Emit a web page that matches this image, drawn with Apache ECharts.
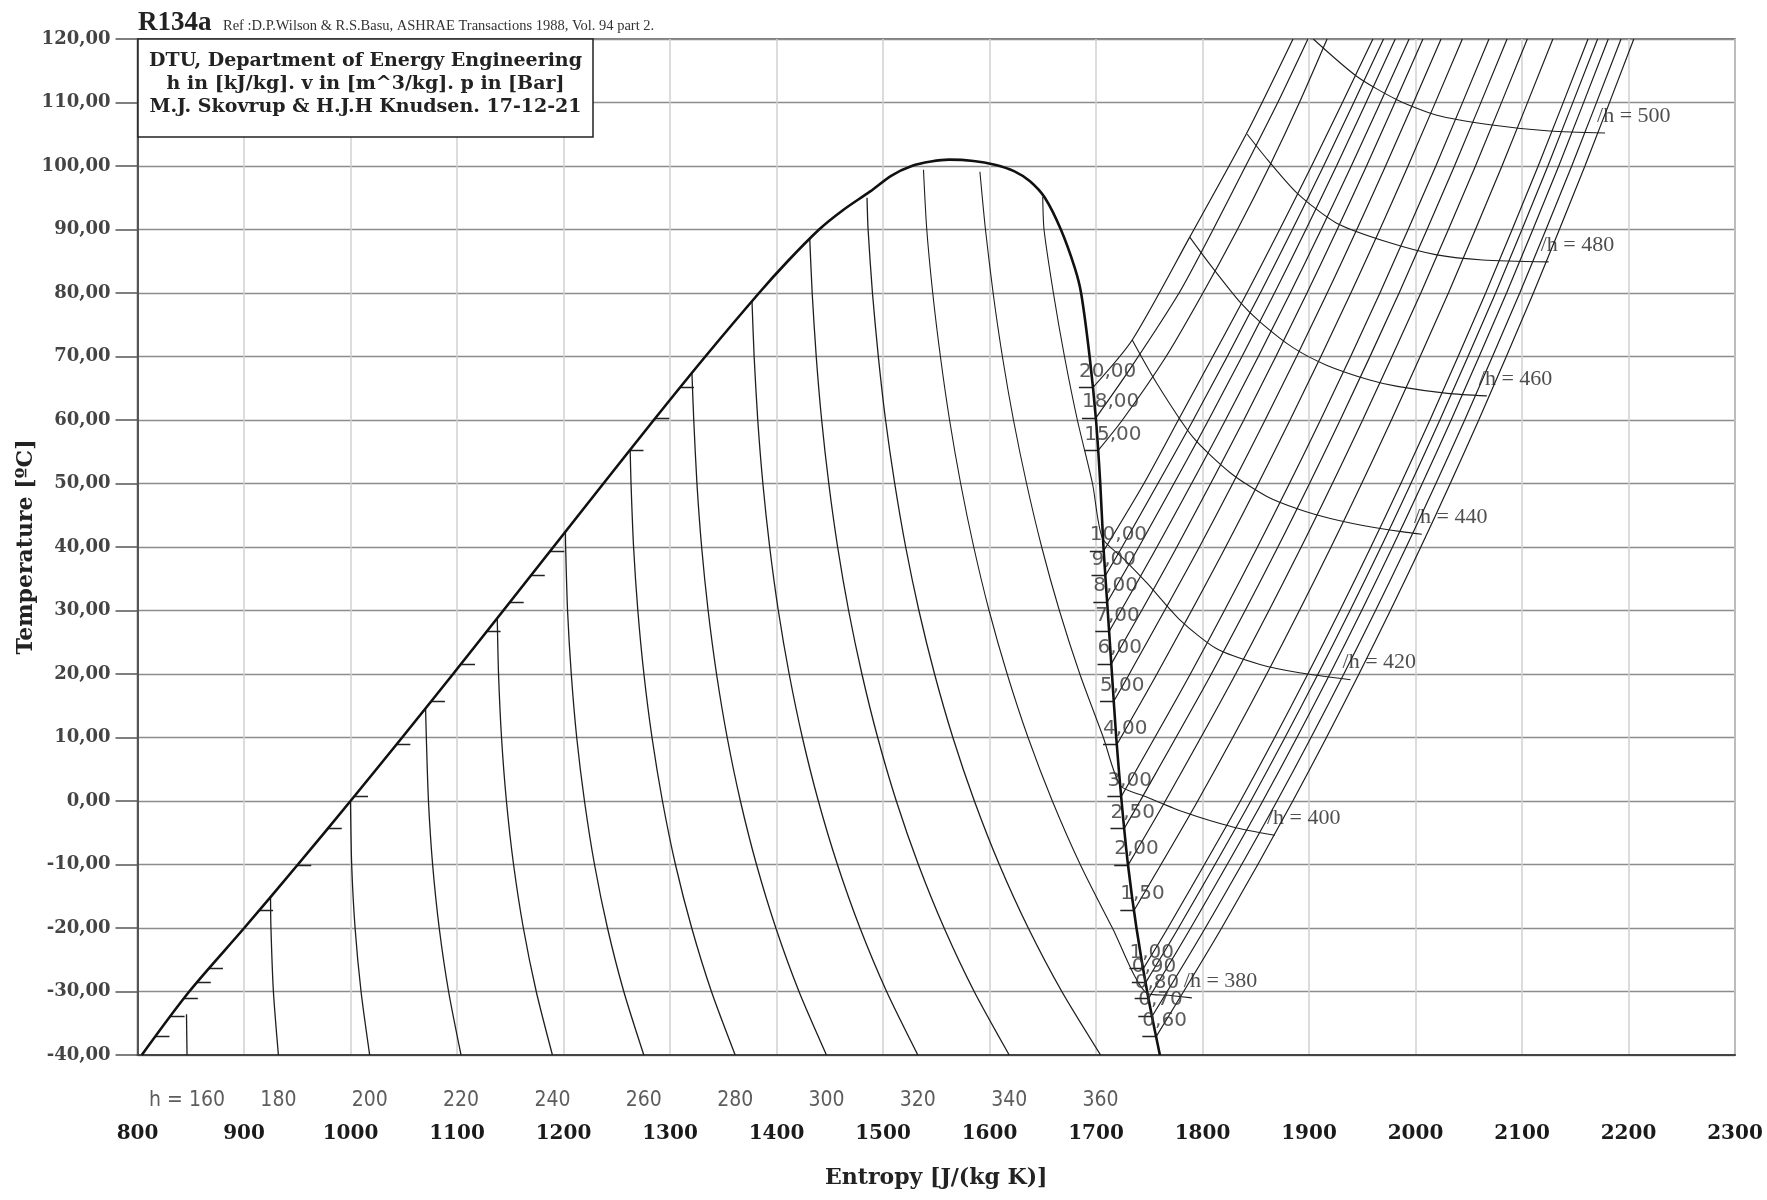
<!DOCTYPE html>
<html>
<head>
<meta charset="utf-8">
<title>R134a T-s diagram</title>
<script src="https://cdn.jsdelivr.net/npm/echarts@6.0.0/dist/echarts.min.js"></script>
<style>
  html, body { margin: 0; padding: 0; background: #fff; }
  #chart { width: 1767px; height: 1200px; }
</style>
</head>
<body>
<div id="chart"></div>
<script>
// saturation dome: liquid side up to the critical point, then vapour side back down
const domeS = [804, 848.6, 900.2, 950.6, 1000, 1048.5, 1096.3, 1143.5, 1190.5, 1237.5, 1284.8, 1333.2, 1383.6, 1410.5, 1440, 1462, 1488, 1508, 1527, 1545, 1562,
  1585, 1605, 1623, 1638, 1652, 1667, 1680, 1686, 1694, 1700, 1704, 1707, 1711, 1715, 1719, 1724, 1730, 1738, 1748, 1760];
const domeT = [-40, -30, -20, -10, 0, 10, 20, 30, 40, 50, 60, 70, 80, 85, 90, 93, 96, 98.5, 100, 100.7, 101,
  100.8, 100.2, 99.2, 97.6, 95, 90, 84, 80, 70, 60, 50, 40, 30, 20, 10, 0, -10, -20, -30, -40];

// constant enthalpy lines inside the dome (kJ/kg), points [s, T]
const hWet = [160, 180, 200, 220, 240, 260, 280, 300, 320, 340, 360];
const hWetLines = [
  [[846, -33.6], [846.5, -40]],
  [[924.9, -15.1], [925.3, -20], [927.6, -30], [932.3, -40]],
  [[1000, 0], [1001.1, -10], [1004.3, -20], [1009.9, -30], [1018, -40]],
  [[1070.5, 14.6], [1071.2, 10], [1073.2, 0], [1077.1, -10], [1083.3, -20], [1092.1, -30], [1103.8, -40]],
  [[1137.8, 28.8], [1139, 20], [1141.8, 10], [1146.4, 0], [1153.1, -10], [1162.3, -20], [1174.4, -30], [1189.6, -40]],
  [[1201.8, 42.4], [1202, 40], [1203.8, 30], [1207.3, 20], [1212.4, 10], [1219.7, 0], [1229.1, -10], [1241.3, -20], [1256.6, -30], [1275.4, -40]],
  [[1262.6, 55.3], [1263.4, 50], [1265.8, 40], [1269.8, 30], [1275.5, 20], [1283.1, 10], [1292.9, 0], [1305.1, -10], [1320.4, -20], [1338.9, -30], [1361.2, -40]],
  [[1320.6, 67.4], [1322.3, 60], [1325.3, 50], [1329.7, 40], [1335.8, 30], [1343.7, 20], [1353.7, 10], [1366.1, 0], [1381.2, -10], [1399.4, -20], [1421.1, -30], [1446.9, -40]],
  [[1377, 78.7], [1379, 70], [1382.4, 60], [1387.2, 50], [1393.6, 40], [1401.7, 30], [1411.9, 20], [1424.3, 10], [1439.3, 0], [1457.2, -10], [1478.4, -20], [1503.4, -30], [1532.7, -40]],
  [[1431.2, 88.6], [1433.5, 80], [1437.3, 70], [1442.4, 60], [1449.1, 50], [1457.4, 40], [1467.7, 30], [1480.2, 20], [1495, 10], [1512.5, 0], [1533.2, -10], [1557.4, -20], [1585.6, -30], [1618.5, -40]],
  [[1485, 95], [1486, 90], [1490.1, 80], [1495.6, 70], [1502.4, 60], [1511, 50], [1521.3, 40], [1533.7, 30], [1548.4, 20], [1565.6, 10], [1585.8, 0], [1609.2, -10], [1636.4, -20], [1667.9, -30], [1704.3, -40]]
];

// constant enthalpy lines reaching the vapour region
const hSup = [380, 400, 420, 440, 460, 480, 500];
const hSupLines = [
  [[1538, 99.4], [1541.1, 90], [1546.7, 80], [1553.9, 70], [1562.5, 60], [1572.9, 50], [1585.2, 40], [1599.6, 30], [1616.6, 20], [1636.2, 10], [1659, 0], [1685.2, -10], [1715.4, -20], [1748, -30.3], [1768, -30.6], [1790, -31]],
  [[1591, 99.1], [1596.2, 90], [1603.4, 80], [1612.1, 70], [1622.5, 60], [1634.8, 50], [1649, 40], [1665.6, 30], [1684.8, 20], [1706.9, 10], [1723, 2.4], [1745, 0.8], [1781.7, -1.7], [1828.6, -4.1], [1868, -5.4]],
  [[1650, 95.1], [1651.2, 90], [1660, 80], [1670.4, 70], [1682.5, 60], [1696.7, 50], [1706, 41.4], [1725, 38.3], [1748, 34.3], [1779, 28.5], [1813, 24], [1854, 21.5], [1891, 20.2], [1939, 19.1]],
  [[1734, 72.6], [1757, 65.8], [1791, 57.3], [1826, 51.7], [1860, 48], [1891, 45.9], [1920, 44.5], [1960, 43.1], [1992, 42.3], [2006, 42]],
  [[1788, 88.8], [1807, 84.5], [1835, 78.6], [1855, 75.3], [1885, 71.4], [1917, 68.6], [1957, 66.3], [1983, 65.3], [2030, 64.2], [2067, 63.8]],
  [[1842, 105], [1861, 101], [1889, 95.7], [1926, 91], [1976, 87.9], [2020, 86], [2063, 85.2], [2125, 84.9]],
  [[1904, 120], [1945, 114.1], [1983, 110.4], [2020, 108], [2070, 106.5], [2126, 105.5], [2178, 105.2]]
];

// isobars (bar): saturation temperature, liquid entropy there, and the superheated branch
const pBar = [0.6, 0.7, 0.8, 0.9, 1, 1.5, 2, 2.5, 3, 4, 5, 6, 7, 8, 9, 10, 15, 18, 20];
const pTsat = [-37.1, -33.9, -31.1, -28.6, -26.4, -17.2, -10.1, -4.3, 0.7, 8.9, 15.7, 21.6, 26.7, 31.3, 35.5, 39.4, 55.2, 60.3, 65.1];
const pLiqS = [817, 831.2, 843.7, 855.8, 867.2, 914.3, 950.1, 978.8, 1003.4, 1043.2, 1075.7, 1103.9, 1127.9, 1149.6, 1169.4, 1187.7, 1262.1, 1286.3, 1309.5];
const isobarLines = [
  [[1756.5, -37.1], [1818, -20], [1884.8, 0], [1946.9, 20], [2005, 40], [2059.4, 60], [2110.7, 80], [2159.1, 100], [2205, 120]],
  [[1752.7, -33.9], [1802.6, -20], [1870, 0], [1932.7, 20], [1991.3, 40], [2046.2, 60], [2097.9, 80], [2146.7, 100], [2193, 120]],
  [[1749.3, -31.1], [1788.9, -20], [1856.6, 0], [1919.6, 20], [1978.4, 40], [2033.5, 60], [2085.5, 80], [2134.5, 100], [2181, 120]],
  [[1746.6, -28.6], [1777.4, -20], [1845.3, 0], [1908.5, 20], [1967.6, 40], [2022.9, 60], [2075.2, 80], [2124.3, 100], [2171, 120]],
  [[1744.4, -26.4], [1767.4, -20], [1835.6, 0], [1898.9, 20], [1958.1, 40], [2013.6, 60], [2065.9, 80], [2115.2, 100], [2162, 120]],
  [[1735.8, -17.2], [1795.5, 0], [1860.3, 20], [1920.7, 40], [1977.4, 60], [2030.9, 80], [2081.2, 100], [2129, 120]],
  [[1730.1, -10.1], [1765.1, 0], [1831.1, 20], [1892.7, 40], [1950.4, 60], [2005, 80], [2056.3, 100], [2105, 120]],
  [[1726.6, -4.3], [1741.4, 0], [1808.3, 20], [1870.8, 40], [1929.3, 60], [1984.6, 80], [2036.6, 100], [2086, 120]],
  [[1723.7, 0.7], [1788.6, 20], [1851.6, 40], [1910.8, 60], [1966.6, 80], [2019.1, 100], [2069, 120]],
  [[1719.6, 8.9], [1757.2, 20], [1821.7, 40], [1882.2, 60], [1939.3, 80], [1993, 100], [2044, 120]],
  [[1716.7, 15.7], [1731.3, 20], [1797.1, 40], [1858.8, 60], [1917.1, 80], [1971.9, 100], [2024, 120]],
  [[1714.4, 21.6], [1742.9, 30], [1775.9, 40], [1838.8, 60], [1898.1, 80], [1954, 100], [2007, 120]],
  [[1712.3, 26.7], [1757.2, 40], [1821.6, 60], [1882.4, 80], [1939.7, 100], [1994, 120]],
  [[1710.5, 31.3], [1740.2, 40], [1805.7, 60], [1867.6, 80], [1925.8, 100], [1981, 120]],
  [[1708.8, 35.5], [1724.5, 40], [1791.3, 60], [1854.3, 80], [1913.7, 100], [1970, 120]],
  [[1707.2, 39.4], [1745, 50], [1777.3, 60], [1841.7, 80], [1902.4, 100], [1960, 120]],
  [[1702, 55.2], [1724.8, 60], [1765.8, 70], [1800.4, 80], [1832.8, 90], [1863, 100], [1891, 110], [1917, 120]],
  [[1699.8, 60.3], [1731.8, 68], [1778, 80], [1810, 90], [1840.5, 100], [1870.7, 110], [1899, 120]],
  [[1697, 65.1], [1734, 72.6], [1788, 88.8], [1841, 105], [1885, 120]]
];

const serif = '"DejaVu Serif", serif';
const TICK = 13; // length of the little pressure marks on the dome, in entropy units

function curve(pts, width) {
  return {
    type: 'line', data: pts, showSymbol: false, smooth: 0.25, silent: true, z: 3,
    lineStyle: { color: '#1e1e1e', width: width }
  };
}

const series = [];

series.push({
  type: 'line', data: domeS.map((s, i) => [s, domeT[i]]), showSymbol: false, smooth: 0.3,
  silent: true, z: 5, lineStyle: { color: '#111', width: 2.6 }
});
hWetLines.forEach(pts => series.push(curve(pts, 1.3)));
hSupLines.forEach(pts => series.push(curve(pts, 1.1)));
isobarLines.forEach(pts => series.push(curve(pts, 1.2)));

// pressure marks on the liquid and vapour lines
const ticks = [];
pBar.forEach((p, i) => {
  const sv = isobarLines[i][0][0];
  ticks.push({ coords: [[pLiqS[i], pTsat[i]], [pLiqS[i] + TICK, pTsat[i]]] });
  ticks.push({ coords: [[sv - TICK, pTsat[i]], [sv, pTsat[i]]] });
});
series.push({
  type: 'lines', coordinateSystem: 'cartesian2d', data: ticks, silent: true, z: 4,
  lineStyle: { color: '#222', width: 1.3, opacity: 1 }
});

// pressure labels next to the vapour line
series.push({
  type: 'scatter', symbolSize: 0, clip: false, silent: true, z: 6,
  data: pBar.map((p, i) => ({
    value: [isobarLines[i][0][0] - TICK, pTsat[i]],
    label: { formatter: p.toFixed(2).replace('.', ',') }
  })),
  label: { show: true, position: 'right', distance: 0, offset: [0, -16], fontFamily: '"DejaVu Sans", sans-serif', fontSize: 20, color: '#333' }
});

// enthalpy labels below the axis
series.push({
  type: 'scatter', symbolSize: 0, clip: false, silent: true, z: 6,
  data: hWet.map((h, i) => {
    const last = hWetLines[i][hWetLines[i].length - 1];
    return { value: last, label: { formatter: i === 0 ? 'h = ' + h : String(h) } };
  }),
  label: { show: true, position: 'bottom', distance: 35, fontFamily: '"DejaVu Sans Condensed", "Liberation Sans", sans-serif', fontSize: 21, color: '#333' }
});

// enthalpy labels at the end of the vapour-region lines
series.push({
  type: 'scatter', symbolSize: 0, clip: false, silent: true, z: 6,
  data: hSup.map((h, i) => {
    const pts = hSupLines[i];
    return { value: pts[pts.length - 1], label: { formatter: '/h = ' + h } };
  }),
  label: { show: true, position: 'right', distance: 0, offset: [-8, -17], fontFamily: '"Liberation Serif", serif', fontSize: 22, color: '#222' }
});

const chart = echarts.init(document.getElementById('chart'));
chart.setOption({
  animation: false,
  backgroundColor: '#fff',
  grid: { left: 137.5, right: 32, top: 39, bottom: 145, show: true, borderColor: '#555', borderWidth: 1.5 },
  xAxis: {
    type: 'value', min: 800, max: 2300, interval: 100,
    name: 'Entropy [J/(kg K)]', nameLocation: 'middle', nameGap: 112, nameMoveOverlap: false,
    nameTextStyle: { fontFamily: serif, fontWeight: 'bold', fontSize: 22, color: '#222' },
    axisLine: { show: true, onZero: false, lineStyle: { color: '#444', width: 2 } },
    axisTick: { show: false },
    axisLabel: { margin: 69, fontFamily: serif, fontWeight: 'bold', fontSize: 20, color: '#1a1a1a', formatter: v => String(v) },
    splitLine: { show: true, lineStyle: { color: '#d0d0d0', width: 1.5 } }
  },
  yAxis: {
    type: 'value', min: -40, max: 120, interval: 10,
    name: 'Temperature [ºC]', nameLocation: 'middle', nameGap: 100, nameMoveOverlap: false,
    nameTextStyle: { fontFamily: serif, fontWeight: 'bold', fontSize: 22, color: '#222' },
    axisLine: { show: true, onZero: false, lineStyle: { color: '#555', width: 2 } },
    axisTick: { show: true, length: 22, lineStyle: { color: '#555', width: 1.5 } },
    axisLabel: {
      margin: 27, fontFamily: serif, fontWeight: 'bold', fontSize: 18, color: '#444',
      formatter: v => v.toFixed(2).replace('.', ',')
    },
    splitLine: { show: true, lineStyle: { color: '#8c8c8c', width: 1.3 } }
  },
  graphic: [
    { type: 'text', x: 138, y: 37, z: 100, style: { text: 'R134a', font: 'bold 27px "Liberation Serif"', fill: '#222', textVerticalAlign: 'bottom', verticalAlign: 'bottom' } },
    { type: 'text', x: 223, y: 34, z: 100, style: { text: 'Ref :D.P.Wilson & R.S.Basu, ASHRAE Transactions 1988, Vol. 94 part 2.', font: '14.5px "Liberation Serif"', fill: '#333', textVerticalAlign: 'bottom', verticalAlign: 'bottom' } },
    { type: 'rect', z: 100, shape: { x: 138, y: 39, width: 455, height: 98 }, style: { fill: '#fff', stroke: '#222', lineWidth: 1.5 } },
    { type: 'text', x: 365.5, y: 61, z: 101, style: { text: 'DTU, Department of Energy Engineering', font: 'bold 19px "DejaVu Serif"', fill: '#222', textAlign: 'center', align: 'center', textVerticalAlign: 'middle', verticalAlign: 'middle' } },
    { type: 'text', x: 365.5, y: 84, z: 101, style: { text: 'h in [kJ/kg]. v in [m^3/kg]. p in [Bar]', font: 'bold 19px "DejaVu Serif"', fill: '#222', textAlign: 'center', align: 'center', textVerticalAlign: 'middle', verticalAlign: 'middle' } },
    { type: 'text', x: 365.5, y: 107, z: 101, style: { text: 'M.J. Skovrup & H.J.H Knudsen. 17-12-21', font: 'bold 19px "DejaVu Serif"', fill: '#222', textAlign: 'center', align: 'center', textVerticalAlign: 'middle', verticalAlign: 'middle' } }
  ],
  series: series
});
</script>
</body>
</html>
